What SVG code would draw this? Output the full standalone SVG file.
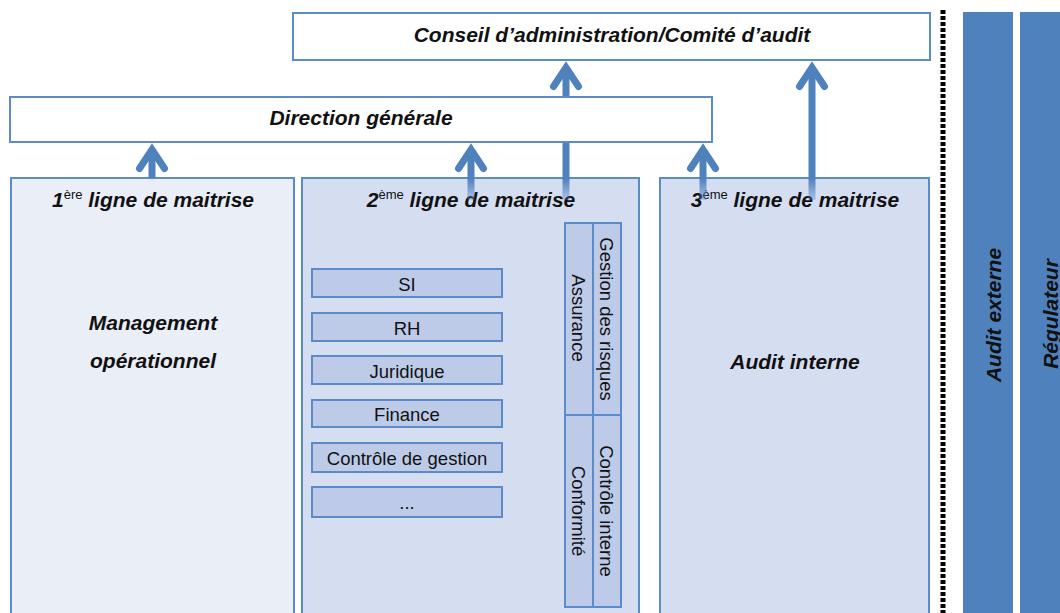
<svg xmlns="http://www.w3.org/2000/svg" width="1060" height="613" viewBox="0 0 1060 613">
  <defs>
    <style>
      .box{stroke:#5b8bc8;stroke-width:2}
      .white{fill:#ffffff}
      .col1{fill:#eaeef7}
      .col{fill:#d5def1}
      .item{fill:#bdcbe9;stroke:#5b8bc8;stroke-width:2}
      .side{fill:#4f81bd}
      .t{font-family:"Liberation Sans",Arial,sans-serif;fill:#111111}
      .title{font-size:21px;font-weight:bold;font-style:italic;text-anchor:middle}
      .sup{font-size:13px;font-weight:normal;font-style:normal}
      .lbl{font-size:18.5px;text-anchor:middle}
      .shaft{stroke:url(#fade);stroke-width:7;fill:none;marker-end:url(#head)}
      .sep{stroke:#000000;stroke-width:5;stroke-dasharray:4 2;fill:none}
    </style>
    <!-- shafts fade out where they start inside the column boxes -->
    <linearGradient id="fade" gradientUnits="userSpaceOnUse" x1="0" y1="178" x2="0" y2="200">
      <stop offset="0" stop-color="#4f81bd" stop-opacity="1"/>
      <stop offset="1" stop-color="#4f81bd" stop-opacity="0.3"/>
    </linearGradient>
    <marker id="head" markerUnits="userSpaceOnUse" viewBox="-26 -18 40 36" markerWidth="40" markerHeight="36" refX="0" refY="0" orient="auto">
      <path d="M-19,-12.5 L0,0 L-19,12.5" fill="none" stroke="#4f81bd" stroke-width="7" stroke-linecap="round" stroke-linejoin="miter"/>
    </marker>
  </defs>

  <!-- first line of control -->
  <g id="ligne1">
    <rect class="box col1" x="11" y="178" width="283" height="445"/>
    <text class="t title" x="153" y="207">1<tspan class="sup" dy="-8">ère</tspan><tspan dy="8"> ligne de maitrise</tspan></text>
    <text class="t title" x="153" y="330">Management</text>
    <text class="t title" x="153" y="368">opérationnel</text>
  </g>

  <!-- second line of control -->
  <g id="ligne2">
    <rect class="box col" x="302" y="178" width="337" height="445"/>
    <text class="t title" x="471" y="207">2<tspan class="sup" dy="-8">ème</tspan><tspan dy="8"> ligne de maitrise</tspan></text>
    <g id="fonctions">
      <rect class="item" x="312" y="269" width="190" height="28"/>
      <text class="t lbl" x="407" y="290.5">SI</text>
      <rect class="item" x="312" y="313" width="190" height="28"/>
      <text class="t lbl" x="407" y="334.5">RH</text>
      <rect class="item" x="312" y="356" width="190" height="28"/>
      <text class="t lbl" x="407" y="377.5">Juridique</text>
      <rect class="item" x="312" y="400" width="190" height="27"/>
      <text class="t lbl" x="407" y="421">Finance</text>
      <rect class="item" x="312" y="443" width="190" height="29"/>
      <text class="t lbl" x="407" y="465">Contrôle de gestion</text>
      <rect class="item" x="312" y="487" width="190" height="30"/>
      <text class="t lbl" x="407" y="509">...</text>
    </g>
    <g id="risques-conformite">
      <rect class="item" x="565" y="223" width="28" height="192"/>
      <rect class="item" x="593" y="223" width="28" height="192"/>
      <rect class="item" x="565" y="415" width="28" height="192"/>
      <rect class="item" x="593" y="415" width="28" height="192"/>
      <text class="t lbl" transform="translate(607,319) rotate(90)" y="6.6">Gestion des risques</text>
      <text class="t lbl" transform="translate(579,318) rotate(90)" y="6.6">Assurance</text>
      <text class="t lbl" transform="translate(607,511) rotate(90)" y="6.6">Contrôle interne</text>
      <text class="t lbl" transform="translate(579,511) rotate(90)" y="6.6">Conformité</text>
    </g>
  </g>

  <!-- third line of control -->
  <g id="ligne3">
    <rect class="box col" x="660" y="178" width="269" height="445"/>
    <text class="t title" x="795" y="207">3<tspan class="sup" dy="-8">ème</tspan><tspan dy="8"> ligne de maitrise</tspan></text>
    <text class="t title" x="795" y="369">Audit interne</text>
  </g>

  <!-- reporting arrows -->
  <g id="connecteurs">
    <line class="shaft" x1="152" y1="178" x2="152" y2="149.5"/>
    <line class="shaft" x1="471" y1="200" x2="471" y2="149.5"/>
    <line class="shaft" x1="703" y1="200" x2="703" y2="149.5"/>
    <line class="shaft" x1="566" y1="200" x2="566" y2="67.5"/>
    <line class="shaft" x1="812" y1="200" x2="812" y2="67.5"/>
  </g>

  <g id="direction">
    <rect class="box white" x="10" y="97" width="702" height="45"/>
    <text class="t title" x="361" y="125">Direction générale</text>
  </g>

  <g id="conseil">
    <rect class="box white" x="293" y="13" width="637" height="47"/>
    <text class="t title" x="612" y="42">Conseil d’administration/Comité d’audit</text>
  </g>

  <!-- boundary between internal and external parties -->
  <line class="sep" x1="943" y1="10" x2="943" y2="613"/>

  <g id="audit-externe">
    <rect class="side" x="963" y="12" width="50" height="610"/>
    <text class="t title" transform="translate(993,315) rotate(-90)" y="7.5">Audit externe</text>
  </g>

  <g id="regulateur">
    <rect class="side" x="1020" y="12" width="50" height="610"/>
    <text class="t title" transform="translate(1050,314) rotate(-90)" y="7.5">Régulateur</text>
  </g>
</svg>
